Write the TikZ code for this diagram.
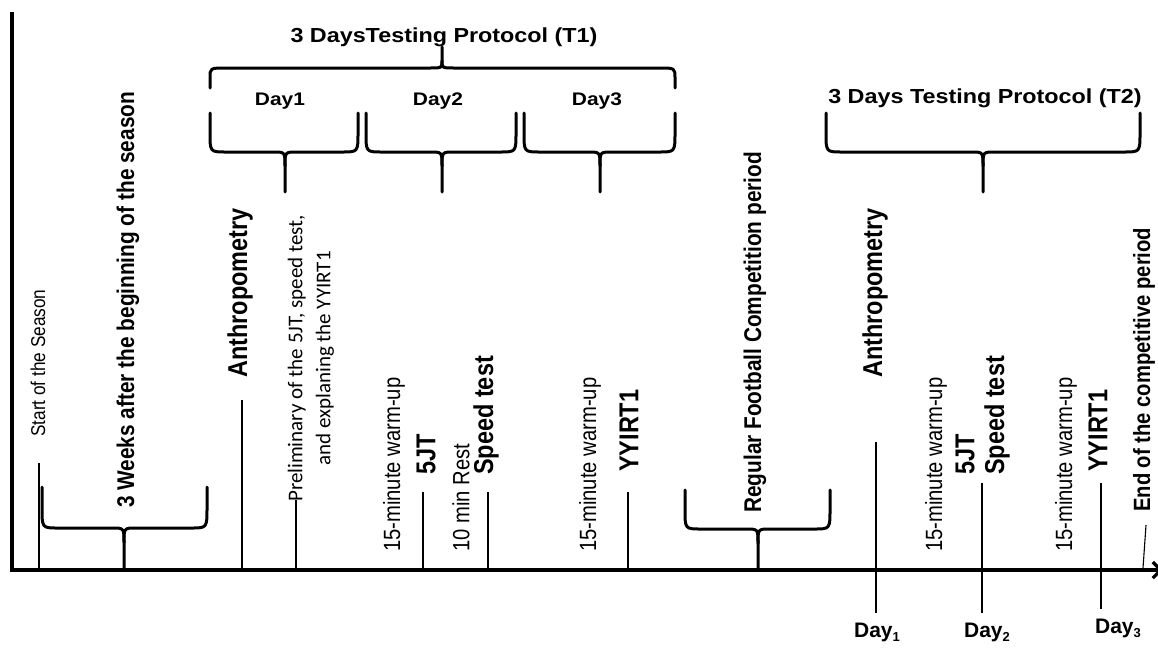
\documentclass[tikz,border=0pt]{standalone}
\usepackage{fontspec}
\setmainfont{Liberation Sans}
\newfontfamily\widefont[FakeStretch=1.15]{Liberation Sans}
\newfontfamily\narrowfont[FakeStretch=0.86]{Liberation Sans}
\newfontfamily\calfont{Carlito}
\usetikzlibrary{calc,arrows.meta}

% #1 left x, #2 right x, #3 tip x, #4 end y, #5 bar y, #6 tip y
\newcommand{\curlybrace}[6]{%
  \draw[bracepath] (#1,#4) -- ($(#1,#4)!0.5!(#1,#5)$) .. controls (#1,#5) .. (#1+16,#5)
    -- (#3-12,#5) .. controls (#3,#5) .. ($(#3,#5)!0.35!(#3,#6)$) -- (#3,#6);
  \draw[bracepath] (#2,#4) -- ($(#2,#4)!0.5!(#2,#5)$) .. controls (#2,#5) .. (#2-16,#5)
    -- (#3+12,#5) .. controls (#3,#5) .. ($(#3,#5)!0.35!(#3,#6)$);
}

\begin{document}
\begin{tikzpicture}[x=1pt, y=-1pt,
  axisline/.style={line width=3.2pt},
  tickline/.style={line width=1.1pt},
  bracepath/.style={line width=3pt, line cap=round, line join=round},
  testlbl/.style={rotate=90, anchor=west, inner sep=0pt, font=\narrowfont\fontsize{27.3}{30}\selectfont\bfseries},
  phaselbl/.style={rotate=90, anchor=west, inner sep=0pt, font=\narrowfont\fontsize{24.2}{27}\selectfont\bfseries},
  warmlbl/.style={rotate=90, anchor=west, inner sep=0pt, font=\narrowfont\fontsize{23.5}{26}\selectfont},
  titlelbl/.style={anchor=base, inner sep=0pt, font=\widefont\fontsize{20.3}{22}\selectfont\bfseries},
  daylbl/.style={anchor=base, inner sep=0pt, font=\widefont\fontsize{18.2}{20}\selectfont\bfseries},
  dayidx/.style={anchor=base, inner sep=0pt, font=\fontsize{21}{23}\selectfont\bfseries}]

\fill[white] (0,0) rectangle (1158,648);
\useasboundingbox (0,0) rectangle (1158,648);

% axes
\coordinate (ytop) at (12,12);
\coordinate (O) at (12,570);
\coordinate (xend) at (1163,570);
\draw[axisline, -{Straight Barb[length=8pt,width=16pt]}] (ytop) -- (O) -- (xend);

% first testing period
\node[titlelbl] (protoA) at (444,42) {3 DaysTesting Protocol (T1)};
\node[daylbl] (dayA) at (280,105) {Day1};
\node[daylbl] (dayB) at (438,105) {Day2};
\node[daylbl] (dayC) at (597,105) {Day3};

\curlybrace{210}{675}{442}{88}{68}{47}
\curlybrace{210}{358}{285}{113}{152}{192}
\curlybrace{366}{516}{442}{113}{152}{192}
\curlybrace{524}{675}{600}{113}{152}{192}

\node[warmlbl, font=\narrowfont\fontsize{20}{22}\selectfont] (start) at (38,437) {Start of the Season};
\node[phaselbl] (weeks) at (128,508) {3 Weeks after the beginning of the season};
\node[testlbl] (anthroA) at (240,378) {Anthropometry};
\node[rotate=90, anchor=west, inner sep=0pt, align=center, font=\calfont\fontsize{21}{28}\selectfont] (prelim) at (311,502)
  {Preliminary of the 5JT, speed test,\\and explaning the YYIRT1};
\node[warmlbl] (warmA) at (394,552) {15-minute warm-up};
\node[testlbl] (jtA) at (426,475) {5JT};
\node[warmlbl] (restA) at (461,552) {10 min Rest};
\node[testlbl] (speedA) at (486,475) {Speed test};
\node[warmlbl] (warmB) at (590,552) {15-minute warm-up};
\node[testlbl] (yyA) at (629,472) {YYIRT1};

\curlybrace{42}{207}{124}{487}{528}{570}

\foreach \tk/\x/\y in {s/39/463, a/242/400, p/296/500, j/423/492, sp/488/492, y/628/492}{
  \coordinate (tk\tk) at (\x,\y);
  \draw[tickline] (tk\tk) -- (tk\tk |- O);
}

% competition period
\node[phaselbl] (season) at (755,513) {Regular Football Competition period};
\curlybrace{685}{830}{758}{490}{529}{570}

% second testing period
\node[titlelbl] (protoB) at (985,103) {3 Days Testing Protocol (T2)};
\curlybrace{826}{1140}{983}{113}{152}{192}

\node[testlbl] (anthroB) at (875,378) {Anthropometry};
\node[warmlbl] (warmC) at (936,552) {15-minute warm-up};
\node[testlbl] (jtB) at (965,475) {5JT};
\node[testlbl] (speedB) at (997,475) {Speed test};
\node[warmlbl] (warmD) at (1066,552) {15-minute warm-up};
\node[testlbl] (yyB) at (1098,472) {YYIRT1};
\node[phaselbl, font=\narrowfont\fontsize{23.5}{26}\selectfont\bfseries] (endseason) at (1144,512) {End of the competitive period};

\node[dayidx] (dayone) at (877,637) {Day\raisebox{-4pt}{\fontsize{13}{14}\selectfont 1}};
\node[dayidx] (daytwo) at (987,637) {Day\raisebox{-4pt}{\fontsize{13}{14}\selectfont 2}};
\node[dayidx] (daythree) at (1118,633) {Day\raisebox{-4pt}{\fontsize{13}{14}\selectfont 3}};

\coordinate (tkd1) at (876,442);
\coordinate (tkd2) at (982,483);
\coordinate (tkd3) at (1101,483);
\draw[tickline, shorten >=9pt] (tkd1) -- (tkd1 |- dayone.north);
\draw[tickline, shorten >=9pt] (tkd2) -- (tkd2 |- daytwo.north);
\draw[tickline, shorten >=9pt] (tkd3) -- (tkd3 |- daythree.north);

\coordinate (tke) at (1146,525);
\coordinate (tkf) at (1143,568);
\draw[tickline] (tke) -- (tkf);

\end{tikzpicture}
\end{document}
